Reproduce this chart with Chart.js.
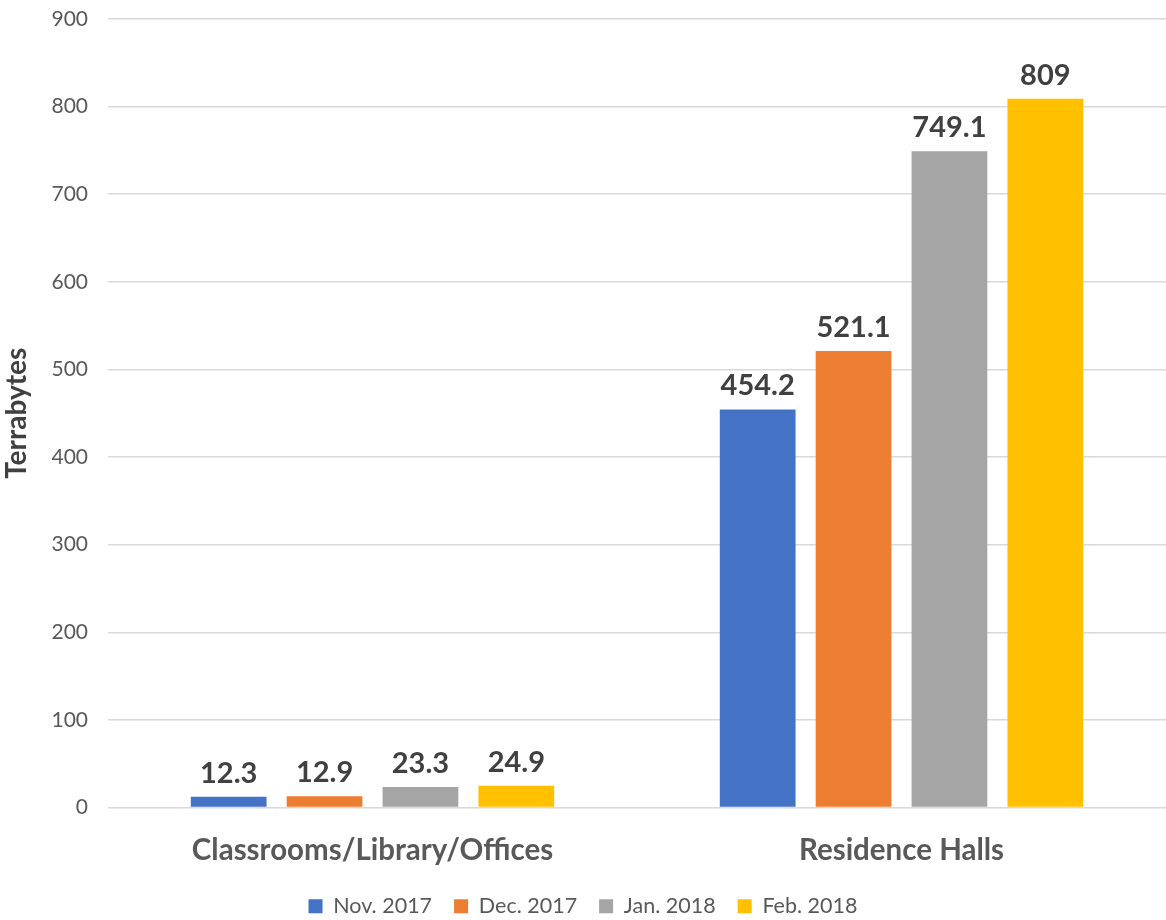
<!DOCTYPE html>
<html lang="en">
<head>
  <meta charset="UTF-8">
  <title>Terabytes by location</title>
  <script src="https://cdn.jsdelivr.net/npm/chart.js"></script>
  <style>
    body { margin: 0; padding: 0; background: #fff; }
    .wrap { width: 1166px; height: 920px; }
  </style>
</head>
<body>
  <div class="wrap"><canvas id="usage"></canvas></div>
  <script>
    const categories = ["Classrooms/Library/Offices", "Residence Halls"];
    const months = ["Nov. 2017", "Dec. 2017", "Jan. 2018", "Feb. 2018"];
    const nov2017 = [12.3, 454.2];
    const dec2017 = [12.9, 521.1];
    const jan2018 = [23.3, 749.1];
    const feb2018 = [24.9, 809];
    const colors = ["#4472c4", "#ed7d31", "#a5a5a5", "#ffc000"];

    const font = "Lato, 'Open Sans', sans-serif";

    // draws the value above each bar
    const valueLabels = {
      id: "valueLabels",
      afterDatasetsDraw(chart) {
        const ctx = chart.ctx;
        ctx.save();
        ctx.font = "bold 29px " + font;
        ctx.fillStyle = "#404040";
        ctx.textAlign = "center";
        ctx.textBaseline = "bottom";
        chart.data.datasets.forEach((ds, i) => {
          chart.getDatasetMeta(i).data.forEach((bar, j) => {
            ctx.fillText(String(ds.data[j]), bar.x, bar.y - 9);
          });
        });
        ctx.restore();
      }
    };

    const series = [nov2017, dec2017, jan2018, feb2018];

    new Chart(document.getElementById("usage"), {
      type: "bar",
      data: {
        labels: categories,
        datasets: series.map((d, i) => ({
          label: months[i],
          data: d,
          backgroundColor: colors[i],
          categoryPercentage: 0.725,
          barPercentage: 0.79
        }))
      },
      plugins: [valueLabels],
      options: {
        responsive: true,
        maintainAspectRatio: false,
        animation: false,
        layout: { padding: { top: 19, right: 0, left: 0, bottom: -7 } },
        plugins: {
          tooltip: { enabled: false },
          legend: {
            position: "bottom",
            labels: {
              boxWidth: 14,
              boxHeight: 14,
              padding: 22,
              color: "#595959",
              font: { family: font, size: 21.5 }
            }
          }
        },
        scales: {
          x: {
            afterFit(scale) { scale.height = 66; },
            grid: { display: false },
            border: { display: false },
            ticks: {
              color: "#595959",
              padding: 17,
              font: { family: font, size: 29.5, weight: "bold" }
            }
          },
          y: {
            min: 0,
            max: 900,
            afterFit(scale) {
              scale.width = 108;
              scale.paddingTop = 0;
              scale.paddingBottom = 0;
            },
            ticks: {
              stepSize: 100,
              color: "#595959",
              padding: 20,
              font: { family: font, size: 21 }
            },
            grid: { color: "#d9d9d9", lineWidth: 1.5, drawTicks: false },
            border: { display: false },
            title: {
              display: true,
              text: "Terrabytes",
              color: "#404040",
              padding: { top: 0, bottom: 14 },
              font: { family: font, size: 28, weight: "bold" }
            }
          }
        }
      }
    });
  </script>
</body>
</html>
